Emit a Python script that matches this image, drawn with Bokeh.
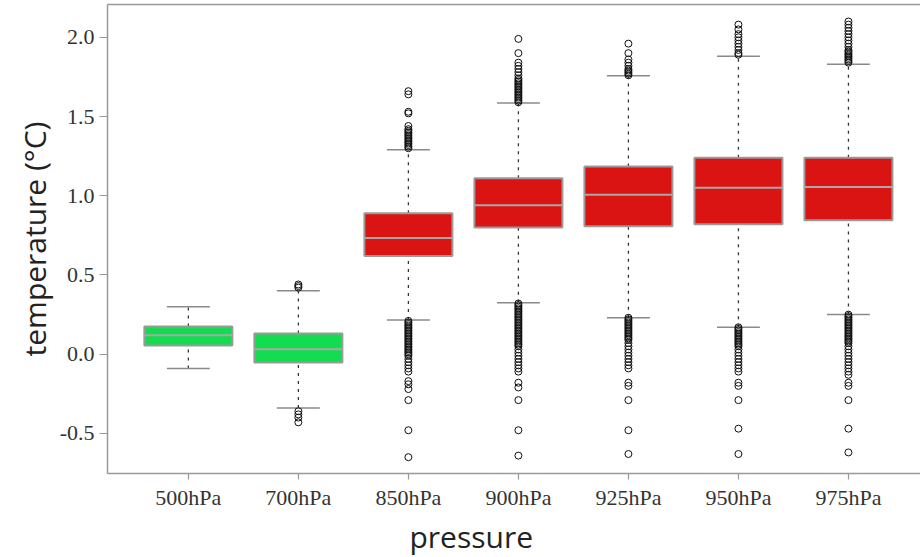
from bokeh.plotting import figure
from bokeh.models import (ColumnDataSource, FixedTicker, PrintfTickFormatter, Range1d,
                          LinearAxis, Title)
from bokeh.embed import file_html
from bokeh.resources import INLINE

categories = ["500hPa", "700hPa", "850hPa", "900hPa", "925hPa", "950hPa", "975hPa"]
whisker_low = [-0.09, -0.34, 0.216, 0.325, 0.23, 0.17, 0.25]
q1 = [0.055, -0.052, 0.62, 0.80, 0.807, 0.82, 0.845]
median = [0.12, 0.031, 0.734, 0.94, 1.006, 1.05, 1.055]
q3 = [0.174, 0.13, 0.89, 1.11, 1.185, 1.24, 1.24]
whisker_high = [0.30, 0.40, 1.29, 1.585, 1.757, 1.88, 1.83]
box_colors = ["#14dc50", "#14dc50", "#da1313", "#da1313", "#da1313", "#da1313", "#da1313"]

outliers = {
    "500hPa": [],
    "700hPa": [0.42, 0.43, 0.44, -0.36, -0.38, -0.40, -0.43],
    "850hPa": [1.30, 1.31, 1.32, 1.33, 1.34, 1.35, 1.36, 1.37, 1.38, 1.39, 1.40, 1.41,
               1.42, 1.44, 1.52, 1.53, 1.64, 1.66,
               0.21, 0.20, 0.19, 0.18, 0.17, 0.16, 0.15, 0.14, 0.13, 0.12, 0.11, 0.10,
               0.09, 0.08, 0.07, 0.06, 0.05, 0.04, 0.03, 0.02, 0.01, 0.00, -0.01,
               -0.03, -0.05, -0.07, -0.09, -0.11, -0.17, -0.19, -0.22, -0.29, -0.48, -0.65],
    "900hPa": [1.59, 1.60, 1.61, 1.62, 1.63, 1.64, 1.65, 1.66, 1.67, 1.68, 1.69, 1.70,
               1.71, 1.72, 1.73, 1.74, 1.76, 1.78, 1.80, 1.82, 1.84, 1.90, 1.99,
               0.32, 0.31, 0.30, 0.29, 0.28, 0.27, 0.26, 0.25, 0.24, 0.23, 0.22, 0.21,
               0.20, 0.19, 0.18, 0.17, 0.16, 0.15, 0.14, 0.13, 0.12, 0.11, 0.10, 0.09,
               0.08, 0.07, 0.06, 0.05, 0.03, 0.01, -0.01, -0.03, -0.05, -0.07, -0.09,
               -0.11, -0.18, -0.21, -0.29, -0.48, -0.64],
    "925hPa": [1.76, 1.77, 1.78, 1.79, 1.80, 1.82, 1.84, 1.86, 1.90, 1.96,
               0.23, 0.22, 0.21, 0.20, 0.19, 0.18, 0.17, 0.16, 0.15, 0.14, 0.13, 0.12,
               0.11, 0.10, 0.09, 0.07, 0.05, 0.03, 0.01, -0.01, -0.03, -0.05, -0.07,
               -0.09, -0.18, -0.20, -0.29, -0.48, -0.63],
    "950hPa": [1.89, 1.90, 1.92, 1.94, 1.96, 1.98, 2.00, 2.02, 2.05, 2.08,
               0.17, 0.16, 0.15, 0.14, 0.13, 0.12, 0.11, 0.10, 0.09, 0.08, 0.07, 0.06,
               0.05, 0.03, 0.01, -0.01, -0.03, -0.05, -0.07, -0.09, -0.11, -0.18,
               -0.20, -0.29, -0.47, -0.63],
    "975hPa": [1.84, 1.85, 1.86, 1.87, 1.88, 1.89, 1.90, 1.91, 1.92, 1.94, 1.96, 1.98,
               2.00, 2.02, 2.04, 2.06, 2.08, 2.10,
               0.25, 0.24, 0.23, 0.22, 0.21, 0.20, 0.19, 0.18, 0.17, 0.16, 0.15, 0.14,
               0.13, 0.12, 0.11, 0.10, 0.09, 0.08, 0.07, 0.05, 0.03, 0.01, -0.01,
               -0.03, -0.05, -0.07, -0.09, -0.11, -0.13, -0.18, -0.20, -0.29, -0.47, -0.62],
}

y_ticks = [-0.5, 0.0, 0.5, 1.0, 1.5, 2.0]

xs = list(range(1, len(categories) + 1))
box_w = 0.8
cap_w = 0.39

p = figure(width=920, height=557, output_backend="svg", toolbar_location=None,
           x_range=Range1d(0.265, 7.655), y_range=Range1d(-0.753, 2.207),
           min_border_left=107, min_border_right=0, min_border_top=4, min_border_bottom=0)
p.outline_line_color = None
p.xgrid.visible = False
p.ygrid.visible = False
p.background_fill_color = "white"
p.border_fill_color = "white"

src = ColumnDataSource(dict(x=xs, lo=whisker_low, q1=q1, med=median, q3=q3, hi=whisker_high,
                            color=box_colors,
                            cl=[x - cap_w / 2 for x in xs], cr=[x + cap_w / 2 for x in xs],
                            bl=[x - box_w / 2 for x in xs], br=[x + box_w / 2 for x in xs]))

# whiskers (dashed)
p.segment(x0="x", y0="q3", x1="x", y1="hi", source=src, line_color="#333333",
          line_width=1.3, line_dash="3 5")
p.segment(x0="x", y0="lo", x1="x", y1="q1", source=src, line_color="#333333",
          line_width=1.3, line_dash="3 5")
# caps
p.segment(x0="cl", y0="hi", x1="cr", y1="hi", source=src, line_color="#8a8a8a", line_width=1.5)
p.segment(x0="cl", y0="lo", x1="cr", y1="lo", source=src, line_color="#8a8a8a", line_width=1.5)

# outliers
ox, oy = [], []
for i, c in enumerate(categories):
    for v in outliers[c]:
        ox.append(xs[i])
        oy.append(v)
p.scatter(ox, oy, marker="circle", size=7, fill_color=None, line_color="#111111",
          line_width=1)

# boxes
p.quad(left="bl", right="br", bottom="q1", top="q3", source=src, fill_color="color",
       line_color="#9a9a9a", line_width=2)
p.segment(x0="bl", y0="med", x1="br", y1="med", source=src, line_color="#a8a8a8",
          line_width=2)

# axes
tick_font = "Liberation Serif"
p.yaxis.ticker = FixedTicker(ticks=y_ticks)
p.yaxis.formatter = PrintfTickFormatter(format="%.1f")
p.xaxis.ticker = FixedTicker(ticks=xs)
p.xaxis.major_label_overrides = {x: c for x, c in zip(xs, categories)}
for ax in (p.xaxis[0], p.yaxis[0]):
    ax.axis_line_color = "#999999"
    ax.axis_line_width = 1.5
    ax.major_tick_line_color = "#999999"
    ax.major_tick_line_width = 1.2
    ax.major_tick_in = 0
    ax.minor_tick_line_color = None
    ax.major_label_text_font = tick_font
    ax.major_label_text_font_size = "22px"
    ax.major_label_text_color = "#333333"
p.yaxis.major_tick_out = 8
p.xaxis.major_tick_out = 6
p.yaxis.major_label_standoff = 5
p.xaxis.major_label_standoff = 5

p.yaxis.axis_label = "temperature (°C)"
p.yaxis.axis_label_text_font = "Open Sans"
p.yaxis.axis_label_text_font_size = "30px"
p.yaxis.axis_label_text_font_style = "normal"
p.yaxis.axis_label_text_color = "#222222"
p.yaxis.axis_label_standoff = 2

# top frame line
top = LinearAxis(axis_line_color="#999999", axis_line_width=1.5, major_tick_line_color=None,
                 minor_tick_line_color=None, major_label_text_font_size="0px",
                 major_tick_out=0, major_tick_in=0, major_label_standoff=0,
                 ticker=FixedTicker(ticks=[]))
p.add_layout(top, "above")

xt = Title(text="pressure", align="left", offset=302, text_font="Open Sans",
           text_font_size="30px", text_font_style="normal", text_color="#222222",
           standoff=2)
p.add_layout(xt, "below")

open("out.html", "w").write(file_html(p, INLINE))
